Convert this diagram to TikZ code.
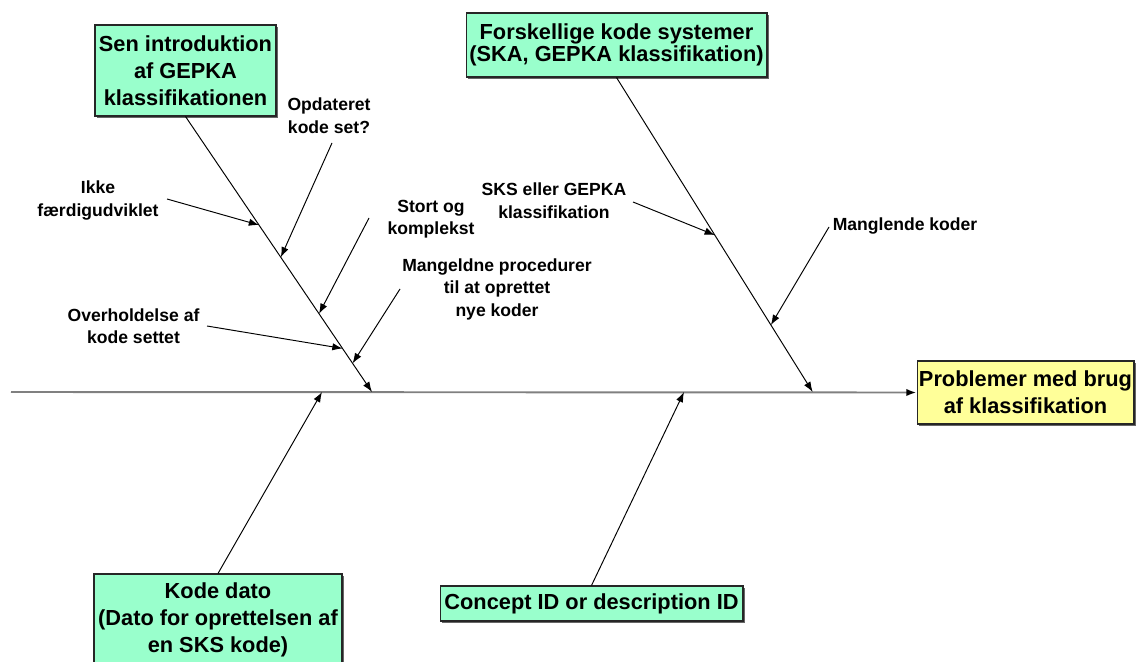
\documentclass[tikz,border=0pt]{standalone}
\usepackage{fontspec}
\setmainfont{Liberation Sans}
\usetikzlibrary{arrows.meta,calc,shadows}
\definecolor{boxgreen}{RGB}{153,255,204}
\definecolor{boxyellow}{RGB}{255,255,153}
\definecolor{spinecolor}{RGB}{128,128,128}
\newcommand{\bigfont}{\fontsize{12.4}{15.4}\selectfont\bfseries}
\newcommand{\tightfont}{\fontsize{12.4}{12.5}\selectfont\bfseries}
\newcommand{\lblfont}{\fontsize{10}{12.8}\selectfont\bfseries}
\tikzset{
	causebox/.style={draw=black!85,fill=boxgreen,line width=0.6pt,inner sep=0pt,align=center,font=\bigfont,
		drop shadow={shadow xshift=1.1pt,shadow yshift=-1.1pt,fill=black!60,opacity=1}},
	effectbox/.style={causebox,fill=boxyellow},
	lbl/.style={align=center,font=\lblfont,inner sep=0pt},
	bone/.style={-{Latex[length=5.8pt,width=4.2pt]},line width=0.55pt},
	spine/.style={-{Latex[length=5.8pt,width=4.2pt,color=black]},line width=1.1pt,spinecolor}
}
\begin{document}
\begin{tikzpicture}[x=0.02cm,y=-0.02cm]
			\useasboundingbox (0,0) rectangle (1137,662);
			%kasser
			\node[causebox,minimum width=3.62cm,minimum height=1.82cm] (sen) at (185.5,70.5) {Sen introduktion\\af GEPKA\\klassifikationen};
			\node[causebox,font=\tightfont,minimum width=6.02cm,minimum height=1.28cm] (kodesys) at (616.5,45) {Forskellige kode systemer\\(SKA, GEPKA klassifikation)};
			\node[effectbox,minimum width=4.34cm,minimum height=1.26cm] (problem) at (1025.5,392.5) {Problemer med brug\\af klassifikation};
			\node[causebox,minimum width=4.96cm,minimum height=1.82cm] (kodedato) at (218,619.5) {Kode dato\\(Dato for oprettelsen af\\en SKS kode)};
			\node[causebox,minimum width=6.06cm,minimum height=0.70cm] (concept) at (591.5,603.5) {Concept ID or description ID};
			%rygrad
			\coordinate (start) at (11,392);
			\draw[spine] (start) -- (problem.west);
			%hovedben
			\coordinate (senend) at (372,392);
			\coordinate (kodesysend) at (812.7,392);
			\coordinate (kodedatoend) at (322,392);
			\coordinate (conceptend) at (684,392);
			\draw[bone] (sen.south) -- (senend);
			\draw[bone] (kodesys.south) -- (kodesysend);
			\draw[bone] (kodedato.north) -- (kodedatoend);
			\draw[bone] (concept.north) -- (conceptend);
			%tekster
			\node[lbl] (ikke) at (98,200.5) {Ikke\\færdigudviklet};
			\node[lbl] (opdateret) at (329,115.5) {Opdateret\\kode set?};
			\node[lbl] (stort) at (431,219) {Stort og\\komplekst};
			\node[lbl] (mangeldne) at (497,289) {Mangeldne procedurer\\til at oprettet\\nye koder};
			\node[lbl] (overhold) at (133.5,326) {Overholdelse af\\kode settet};
			\node[lbl] (sks) at (554,200.5) {SKS eller GEPKA\\klassifikation};
			\node[lbl] (manglende) at (905,226) {Manglende koder};
			%smaa ben
			\coordinate (ikkestart) at (167,199);
			\coordinate (opdstart) at (332,143);
			\coordinate (stortstart) at (369,218);
			\coordinate (overstart) at (207,326);
			\coordinate (mangeldnestart) at (400,289);
			\coordinate (sksstart) at (633,202);
			\coordinate (manglendestart) at (829,227);
			\draw[bone] (ikkestart) -- ($(sen.south)!0.394!(senend)$);
			\draw[bone] (opdstart) -- ($(sen.south)!0.511!(senend)$);
			\draw[bone] (stortstart) -- ($(sen.south)!0.716!(senend)$);
			\draw[bone] (overstart) -- ($(sen.south)!0.842!(senend)$);
			\draw[bone] (mangeldnestart) -- ($(sen.south)!0.896!(senend)$);
			\draw[bone] (sksstart) -- ($(kodesys.south)!0.501!(kodesysend)$);
			\draw[bone] (manglendestart) -- ($(kodesys.south)!0.787!(kodesysend)$);
		\end{tikzpicture}
\end{document}
